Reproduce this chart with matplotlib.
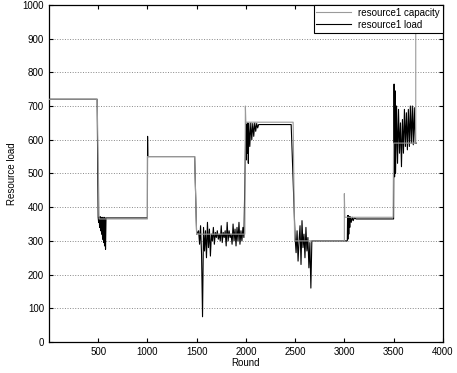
import matplotlib
matplotlib.use('Agg')
import matplotlib.pyplot as plt

# capacity of resource1 per round (step changes)
capacity_rounds = [0, 490, 510, 1000, 1000, 1480, 1500, 1990, 1995, 2000, 2480, 2495,
                   3000, 3000, 3005, 3495, 3500, 3725, 3725]
capacity_values = [720, 720, 365, 365, 550, 550, 320, 320, 700, 652, 652, 300,
                   300, 440, 370, 370, 590, 590, 960]

# load of resource1 per round
load_rounds = [0, 490, 500,
               505, 510, 515, 520, 525, 530, 535, 540, 545, 550, 555, 560, 565, 570, 575, 580,
               1000, 1002, 1005, 1480, 1500,
               1520, 1530, 1540, 1550, 1560, 1570, 1580, 1590, 1600, 1610, 1620, 1630, 1640,
               1650, 1660, 1670, 1680, 1690, 1700, 1710, 1720, 1730, 1740, 1750, 1760, 1770,
               1780, 1790, 1800, 1810, 1820, 1830, 1840, 1850, 1860, 1870, 1880, 1890, 1900,
               1910, 1920, 1930, 1940, 1950, 1960, 1970, 1980,
               2000, 2005, 2010, 2015, 2020, 2025, 2030, 2040, 2050, 2060, 2070, 2080, 2090,
               2100, 2110, 2120, 2130, 2150, 2460, 2500,
               2510, 2520, 2530, 2540, 2550, 2560, 2570, 2580, 2590, 2600, 2610, 2620, 2630,
               2640, 2650, 2660, 2670,
               3030, 3033, 3036, 3040, 3045, 3050, 3055, 3060, 3070, 3080, 3090, 3100, 3120,
               3500, 3505, 3510, 3515, 3520, 3530, 3540, 3550, 3560, 3570, 3580, 3590, 3600,
               3610, 3620, 3630, 3640, 3650, 3660, 3670, 3680, 3690, 3700, 3710, 3720, 3730]
load_values = [720, 720, 370,
               355, 370, 340, 372, 330, 368, 320, 370, 305, 365, 295, 370, 285, 368, 275, 368,
               368, 610, 550, 550, 320,
               330, 290, 345, 260, 75, 340, 270, 330, 250, 355, 280, 335, 255,
               320, 300, 340, 290, 325, 310, 330, 305, 320, 300, 345, 295, 325,
               310, 330, 285, 355, 300, 330, 310, 320, 290, 350, 300, 335, 285,
               340, 300, 355, 290, 330, 300, 340, 310,
               650, 540, 645, 560, 650, 530, 648, 580, 650, 600, 648, 610, 650,
               625, 648, 635, 645, 645, 645, 310,
               265, 330, 240, 300, 345, 230, 360, 280, 320, 250, 340, 270, 310,
               220, 295, 160, 300,
               300, 375, 305, 375, 320, 372, 340, 372, 355, 370, 360, 368, 365,
               365, 765, 490, 745, 500, 700, 530, 690, 560, 650, 520, 660, 560,
               690, 580, 680, 570, 690, 580, 700, 590, 700, 585, 695, 590, 590]

plt.rcParams['font.family'] = ['Liberation Sans', 'DejaVu Sans']

fig = plt.figure(figsize=(4.57, 3.73), dpi=100)
ax = fig.add_axes([0.107, 0.083, 0.862, 0.904])

ax.plot(load_rounds, load_values, color='black', lw=0.8, label='resource1 load', zorder=2)
ax.plot(capacity_rounds, capacity_values, color='#9a9a9a', lw=0.8,
        label='resource1 capacity', zorder=3)

ax.set_xlim(0, 4000)
ax.set_ylim(0, 1000)
ax.set_xticks(range(500, 4001, 500))
ax.set_yticks(range(0, 1001, 100))
ax.tick_params(direction='in', top=True, right=True, labelsize=7, length=3, width=0.8)
ax.yaxis.grid(True, linestyle=':', color='#888888', lw=0.7)
for s in ax.spines.values():
    s.set_linewidth(0.9)

ax.set_xlabel('Round', fontsize=7, labelpad=1)
ax.set_ylabel('Resource load', fontsize=7, labelpad=4)

# capacity first in the legend
handles, labels = ax.get_legend_handles_labels()
leg = ax.legend(handles[::-1], labels[::-1], loc='upper right', fontsize=7, frameon=True,
                fancybox=False, borderaxespad=0.0, handlelength=3.5, borderpad=0.3,
                labelspacing=0.2)
leg.get_frame().set_edgecolor('black')
leg.get_frame().set_linewidth(0.8)
leg.get_frame().set_alpha(1)
leg.set_zorder(5)

fig.savefig('out.png', dpi=100)
